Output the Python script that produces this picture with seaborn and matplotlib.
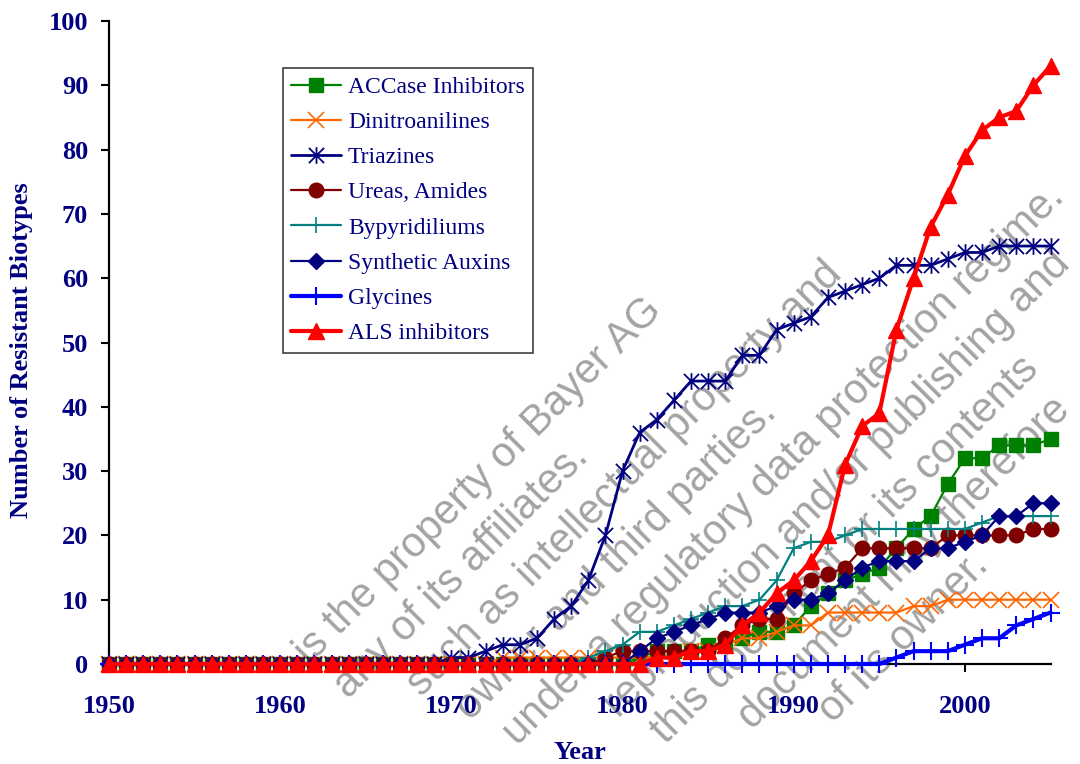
import numpy as np
import pandas as pd
import matplotlib
matplotlib.use("Agg")
import matplotlib.pyplot as plt
import seaborn as sns
from matplotlib.path import Path

years = list(range(1950, 2006))

# values per year, 1950 .. 2005
accase = [0, 0, 0, 0, 0, 0, 0, 0, 0, 0,
          0, 0, 0, 0, 0, 0, 0, 0, 0, 0,
          0, 0, 0, 0, 0, 0, 0, 0, 0, 0,
          0, 1, 2, 2, 2, 3, 3, 4, 5, 5,
          6, 9, 11, 13, 14, 15, 18, 21, 23, 28,
          32, 32, 34, 34, 34, 35]
dinitro = [0, 0, 0, 0, 0, 0, 0, 0, 0, 0,
           0, 0, 0, 0, 0, 0, 0, 0, 0, 0,
           0, 0, 0, 1, 1, 1, 1, 1, 1, 1,
           1, 1, 1, 1, 2, 2, 3, 4, 4, 5,
           6, 6, 8, 8, 8, 8, 8, 9, 9, 10,
           10, 10, 10, 10, 10, 10]
triazines = [0, 0, 0, 0, 0, 0, 0, 0, 0, 0,
             0, 0, 0, 0, 0, 0, 0, 0, 0, 0,
             1, 1, 2, 3, 3, 4, 7, 9, 13, 20,
             30, 36, 38, 41, 44, 44, 44, 48, 48, 52,
             53, 54, 57, 58, 59, 60, 62, 62, 62, 63,
             64, 64, 65, 65, 65, 65]
ureas = [0, 0, 0, 0, 0, 0, 0, 0, 0, 0,
         0, 0, 0, 0, 0, 0, 0, 0, 0, 0,
         0, 0, 0, 0, 0, 0, 0, 0, 0, 1,
         2, 2, 2, 2, 2, 2, 4, 6, 7, 7,
         11, 13, 14, 15, 18, 18, 18, 18, 18, 20,
         20, 20, 20, 20, 21, 21]
bipyr = [0, 0, 0, 0, 0, 0, 0, 0, 0, 0,
         0, 0, 0, 0, 0, 0, 0, 0, 0, 0,
         0, 0, 0, 0, 0, 0, 0, 0, 1, 2,
         3, 5, 5, 6, 7, 8, 9, 9, 10, 13,
         18, 19, 19, 20, 21, 21, 21, 21, 21, 21,
         21, 22, 23, 23, 23, 23]
auxins = [0, 0, 0, 0, 0, 0, 0, 0, 0, 0,
          0, 0, 0, 0, 0, 0, 0, 0, 0, 0,
          0, 0, 0, 0, 0, 0, 0, 0, 0, 0,
          0, 2, 4, 5, 6, 7, 8, 8, 8, 9,
          10, 10, 11, 13, 15, 16, 16, 16, 18, 18,
          19, 20, 23, 23, 25, 25]
glycines = [0, 0, 0, 0, 0, 0, 0, 0, 0, 0,
            0, 0, 0, 0, 0, 0, 0, 0, 0, 0,
            0, 0, 0, 0, 0, 0, 0, 0, 0, 0,
            0, 0, 0, 0, 0, 0, 0, 0, 0, 0,
            0, 0, 0, 0, 0, 0, 1, 2, 2, 2,
            3, 4, 4, 6, 7, 8]
als = [0, 0, 0, 0, 0, 0, 0, 0, 0, 0,
       0, 0, 0, 0, 0, 0, 0, 0, 0, 0,
       0, 0, 0, 0, 0, 0, 0, 0, 0, 0,
       0, 0, 1, 1, 2, 2, 3, 6, 8, 11,
       13, 16, 20, 31, 37, 39, 52, 60, 68, 73,
       79, 83, 85, 86, 90, 93]

x_ticks = [1950, 1960, 1970, 1980, 1990, 2000]
y_ticks = [0, 10, 20, 30, 40, 50, 60, 70, 80, 90, 100]

# diagonal watermark, only the parts that lie inside the picture
watermark = [
    "is the property of Bayer AG",
    "any of its affiliates.",
    "such as intellectual property and",
    "owner and third parties.",
    "under a regulatory data protection regime.",
    "reproduction and/or publishing and",
    "this document or its contents",
    "document may therefore",
    "of its owner.",
]
# right end of each watermark line, in pixels from top left
wm_ends = [(663, 312), (590, 458), (843, 276), (778, 414), (1066, 199),
           (1072, 266), (1040, 371), (1072, 412), (990, 567)]

sns.set_theme(style="ticks")
plt.rcParams["font.family"] = ["Liberation Serif", "DejaVu Serif"]

navy = "#000080"
W, H = 1080, 764

fig = plt.figure(figsize=(10.8, 7.64), dpi=100)
fig.patch.set_facecolor("white")
ax = fig.add_axes([109 / W, 1 - 664 / H, (1050.5 - 109) / W, (664 - 21) / H])
ax.patch.set_alpha(0)

for line, (ex, ey) in zip(watermark, wm_ends):
    fig.text(ex / W, 1 - ey / H, line, rotation=45, rotation_mode="anchor",
             ha="right", va="baseline", fontsize=30, color="#a3a3a3",
             family=["Liberation Sans", "DejaVu Sans"], zorder=-1)

asterisk = Path([(-1, -1), (1, 1), (-1, 1), (1, -1), (0, -1.1), (0, 1.1)],
                [Path.MOVETO, Path.LINETO] * 3)

series = [
    ("ACCase Inhibitors", accase,
     dict(color="#008000", marker="s", markersize=10, linewidth=1.6,
          markeredgecolor="#008000", markeredgewidth=1)),
    ("Dinitroanilines", dinitro,
     dict(color="#ff6600", marker="x", markersize=11, linewidth=1.6,
          markeredgecolor="#ff6600", markeredgewidth=1.2)),
    ("Triazines", triazines,
     dict(color=navy, marker=asterisk, markersize=12, linewidth=2,
          markeredgecolor=navy, markeredgewidth=1.3, markerfacecolor="none")),
    ("Ureas, Amides", ureas,
     dict(color="#800000", marker="o", markersize=10.5, linewidth=1.6,
          markeredgecolor="#800000", markeredgewidth=1)),
    ("Bypyridiliums", bipyr,
     dict(color="#008080", marker="+", markersize=11, linewidth=1.6,
          markeredgecolor="#008080", markeredgewidth=1.2)),
    ("Synthetic Auxins", auxins,
     dict(color=navy, marker="D", markersize=8.5, linewidth=1.6,
          markeredgecolor=navy, markeredgewidth=1)),
    ("Glycines", glycines,
     dict(color="#0000ff", marker="+", markersize=13, linewidth=3,
          markeredgecolor="#0000ff", markeredgewidth=1.5)),
    ("ALS inhibitors", als,
     dict(color="#ff0000", marker="^", markersize=12, linewidth=3,
          markeredgecolor="#ff0000", markeredgewidth=1)),
]

for name, vals, style in series:
    df = pd.DataFrame({"year": years, "count": vals})
    sns.lineplot(data=df, x="year", y="count", ax=ax, label=name,
                 clip_on=False, zorder=3, **style)

ax.set_xlim(1950, 2005)
ax.set_ylim(0, 100)
ax.set_xticks(x_ticks)
ax.set_yticks(y_ticks)
ax.set_xlabel("")
ax.set_ylabel("")

for side in ["top", "right"]:
    ax.spines[side].set_visible(False)
for side in ["left", "bottom"]:
    ax.spines[side].set_color("black")
    ax.spines[side].set_linewidth(1.6)

ax.tick_params(axis="both", direction="out", length=6, width=1.5,
               colors="black", labelcolor=navy, labelsize=19)
ax.tick_params(axis="x", pad=16, bottom=True)
ax.tick_params(axis="y", pad=9, left=True)
for lbl in ax.get_xticklabels() + ax.get_yticklabels():
    lbl.set_fontweight("bold")

fig.text(22 / W, 1 - 350 / H, "Number of Resistant Biotypes", rotation=90,
         ha="center", va="center", fontsize=19, fontweight="bold", color=navy)
fig.text(580 / W, 1 - 741 / H, "Year", ha="center", va="top",
         fontsize=19, fontweight="bold", color=navy)

leg = ax.legend(loc="upper left", bbox_to_anchor=(283 / W, 1 - 68 / H),
                bbox_transform=fig.transFigure, borderaxespad=0,
                frameon=True, fancybox=False, framealpha=1,
                edgecolor="#404040", facecolor="white",
                prop={"family": "Liberation Serif", "size": 17},
                labelcolor=navy, handlelength=2.1, handletextpad=0.3,
                labelspacing=0.58, borderpad=0.35)
leg.get_frame().set_linewidth(1.2)

fig.savefig("out.png", dpi=100)
